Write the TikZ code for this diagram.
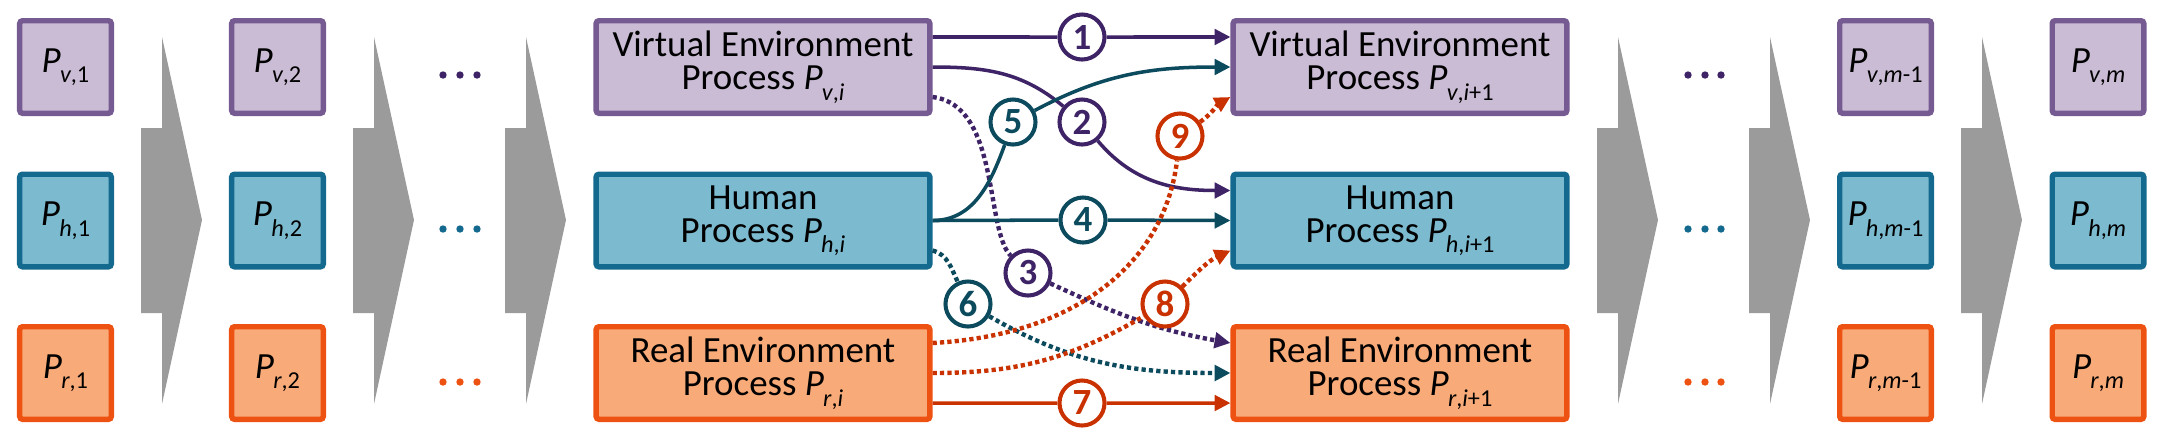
\documentclass[tikz,border=0pt]{standalone}
\usepackage{fontspec}
\setmainfont{Carlito}
\usepackage{tikz}
\usetikzlibrary{arrows.meta}
\definecolor{vfill}{HTML}{CBBCD6}
\definecolor{vline}{HTML}{765B92}
\definecolor{vdark}{HTML}{3E2466}
\definecolor{hfill}{HTML}{7BBACF}
\definecolor{hline}{HTML}{146A8E}
\definecolor{hdark}{HTML}{0C4A5E}
\definecolor{rfill}{HTML}{F8AB78}
\definecolor{rline}{HTML}{EE5213}
\definecolor{rdark}{HTML}{C93200}
\definecolor{flowgray}{HTML}{9B9B9B}
\newcommand{\proc}[1]{\textit{P}\kern-0.2pt\raisebox{-3pt}{\fontsize{6.9}{7}\selectfont #1}}
\pgfdeclarelayer{front}
\pgfsetlayers{main,front}
\tikzset{
    proc-box/.style = {draw, rectangle, line width=1.55pt, rounded corners=0.8pt, inner sep=0pt, align=center, minimum height=0.925cm, font=\fontsize{10.5}{9.4}\selectfont},
    small-box/.style = {proc-box, minimum width=0.915cm},
    big-box/.style = {proc-box, minimum width=3.335cm},
    v-box/.style = {draw=vline, fill=vfill},
    h-box/.style = {draw=hline, fill=hfill},
    r-box/.style = {draw=rline, fill=rfill},
    num/.style = {circle, draw=#1, text=#1, fill=white, line width=1.15pt, minimum size=0.45cm, inner sep=0pt, font=\bfseries\fontsize{10.5}{10}\selectfont},
    conn/.style = {line width=1pt, -{Triangle[length=4.5pt,width=4.4pt]}},
    dotted-conn/.style = {conn, line width=1.25pt, dash pattern=on 1.2pt off 0.9pt},
}

\begin{document}
\begin{tikzpicture}[x=0.01cm, y=-0.01cm]
\useasboundingbox (0,0) rectangle (2159,432);

% big grey arrows between the steps
\foreach \x in {141,353,505,1597,1749,1961}
    \fill[flowgray] (\x,128) -- (\x+21,128) -- (\x+21,37) -- (\x+61,220) -- (\x+21,404) -- (\x+21,313) -- (\x,313) -- cycle;

% dots
\foreach \x in {443,460,477,1688,1705,1721} {
    \fill[vdark] (\x,75) circle (1.05pt);
    \fill[hline] (\x,229) circle (1.05pt);
    \fill[rline] (\x,382) circle (1.05pt);
}

% processes, step 1, 2, m-1, m
\node[small-box, v-box] (v1) at (65.5,67) {\proc{\textit{v},1}};
\node[small-box, h-box] (h1) at (65.5,220.5) {\proc{\textit{h},1}};
\node[small-box, r-box] (r1) at (65.5,373) {\proc{\textit{r},1}};
\node[small-box, v-box] (v2) at (277.5,67) {\proc{\textit{v},2}};
\node[small-box, h-box] (h2) at (277.5,220.5) {\proc{\textit{h},2}};
\node[small-box, r-box] (r2) at (277.5,373) {\proc{\textit{r},2}};
\node[small-box, v-box] (vm1) at (1885.5,67) {\proc{\textit{v},\textit{m}-1}};
\node[small-box, h-box] (hm1) at (1885.5,220.5) {\proc{\textit{h},\textit{m}-1}};
\node[small-box, r-box] (rm1) at (1885.5,373) {\proc{\textit{r},\textit{m}-1}};
\node[small-box, v-box] (vm) at (2098,67) {\proc{\textit{v},\textit{m}}};
\node[small-box, h-box] (hm) at (2098,220.5) {\proc{\textit{h},\textit{m}}};
\node[small-box, r-box] (rm) at (2098,373) {\proc{\textit{r},\textit{m}}};

% processes, step i and i+1
\node[big-box, v-box] (vi) at (763,67) {Virtual Environment\\Process \proc{\textit{v},\textit{i}}};
\node[big-box, h-box] (hi) at (763,220.5) {Human\\Process \proc{\textit{h},\textit{i}}};
\node[big-box, r-box] (ri) at (763,373) {Real Environment\\Process \proc{\textit{r},\textit{i}}};
\node[big-box, v-box] (vn) at (1400,67) {Virtual Environment\\Process \proc{\textit{v},\textit{i}+1}};
\node[big-box, h-box] (hn) at (1400,220.5) {Human\\Process \proc{\textit{h},\textit{i}+1}};
\node[big-box, r-box] (rn) at (1400,373) {Real Environment\\Process \proc{\textit{r},\textit{i}+1}};

\foreach \n in {vi,hi,ri} {
    \coordinate (\n-a) at ([yshift=0.3cm]\n.east);
    \coordinate (\n-b) at (\n.east);
    \coordinate (\n-c) at ([yshift=-0.3cm]\n.east);
}
\foreach \n in {vn,hn,rn} {
    \coordinate (\n-a) at ([yshift=0.3cm]\n.west);
    \coordinate (\n-b) at (\n.west);
    \coordinate (\n-c) at ([yshift=-0.3cm]\n.west);
}

% numbered links
\begin{pgfonlayer}{front}
\node[num=vdark] (c1) at (1082,37) {1};
\node[num=vdark] (c2) at (1082,122) {2};
\node[num=vdark] (c3) at (1028,273) {3};
\node[num=hdark] (c4) at (1083,220) {4};
\node[num=hdark] (c5) at (1013,122) {5};
\node[num=hdark] (c6) at (968,304) {6};
\node[num=rdark] (c7) at (1082,403) {7};
\node[num=rdark] (c8) at (1165,304) {8};
\node[num=rdark] (c9) at (1180,136) {9};
\end{pgfonlayer}

\draw[conn, vdark] (vi-a) -- (c1) -- (vn-a);
\draw[conn, vdark] (vi-b) to[out=0,in=140] (c2) to[out=-50,in=180] (hn-a);
\draw[dotted-conn, vdark] (vi-c) .. controls (1000,105) and (985,230) .. (c3) to[out=-25,in=170] (rn-a);
\draw[conn, hdark] (hi-b) -- (c4) -- (hn-b);
\draw[conn, hdark] (hi-b) to[out=0,in=-110] (c5) to[out=28,in=180] (vn-b);
\draw[dotted-conn, hdark] (hi-c) to[out=-15,in=115] (c6) to[out=-30,in=180] (rn-b);
\draw[conn, rdark] (ri-c) -- (c7) -- (rn-c);
\draw[dotted-conn, rdark] (ri-b) to[out=0,in=210] (c8) to[out=45,in=205] (hn-c);
\draw[dotted-conn, rdark] (ri-a) .. controls (1080,335) and (1165,260) .. (c9) to[out=35,in=210] (vn-c);
\end{tikzpicture}
\end{document}
